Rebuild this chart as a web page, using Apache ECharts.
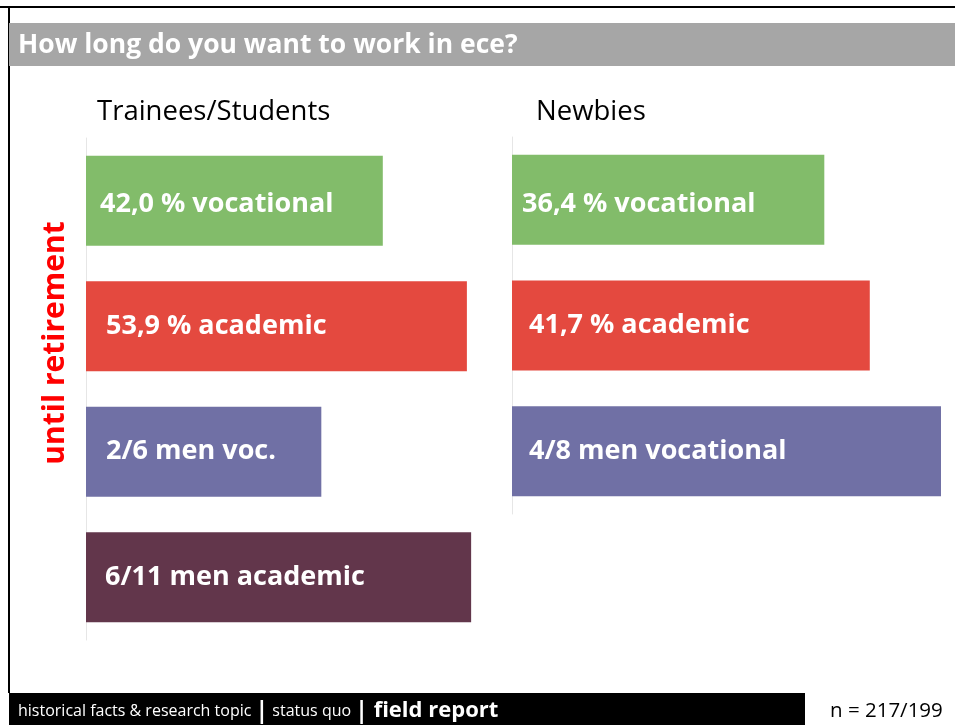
<!DOCTYPE html>
<html><head><meta charset="utf-8">
<script src="https://cdn.jsdelivr.net/npm/echarts@6/dist/echarts.min.js"></script>
<style>html,body{margin:0;padding:0;background:#fff}#c{width:955px;height:725px}</style>
</head><body><div id="c"></div>
<script>
const leftCategories = ['vocational', 'academic', 'men voc.', 'men academic'];
const leftValues = [42.0, 53.9, 33.3, 54.5];
const leftLabels = ['42,0 % vocational', '53,9 % academic', '2/6 men voc.', '6/11 men academic'];
const rightCategories = ['vocational', 'academic', 'men vocational'];
const rightValues = [36.4, 41.7, 50.0];
const rightLabels = ['36,4 % vocational', '41,7 % academic', '4/8 men vocational'];
const panelTitles = ['Trainees/Students', 'Newbies'];
const titleText = 'How long do you want to work in ece?';
const sideText = 'until retirement';
const nText = 'n = 217/199';

// styling (kept separate from data)
const leftColors = ['#82bc6a', '#e4493f', '#7070a5', '#62364b'];
const rightColors = ['#82bc6a', '#e4493f', '#7070a5'];
const leftLabelPad = [14, 20, 20, 19];
const rightLabelPad = [10, 17, 17];
const leftLabelDy = [4, 0, 0, 0];
const rightLabelDy = [4, 0, 0];

const FONT = '"Open Sans", sans-serif';
const chart = echarts.init(document.getElementById('c'), null, {renderer: 'canvas'});

function mkData(vals, cols, labels, pads, dys) {
  return vals.map((v, i) => ({
    value: v,
    itemStyle: {color: cols[i]},
    label: {
      show: true, position: 'insideLeft', distance: pads[i], offset: [0, dys[i]],
      formatter: labels[i],
      color: '#fff', fontWeight: 'bold', fontSize: 27, fontFamily: FONT
    }
  }));
}
const yAxisCommon = {
  type: 'category', inverse: true,
  axisLine: {show: true, lineStyle: {color: '#e6e6e6', width: 1}},
  axisTick: {show: false}, axisLabel: {show: false}, splitLine: {show: false}
};

chart.setOption({
  animation: false,
  backgroundColor: '#fff',
  grid: [
    {left: 86, top: 138, width: 424, height: 502},
    {left: 512, top: 137, width: 429, height: 377}
  ],
  xAxis: [
    {gridIndex: 0, type: 'value', min: 0, max: 60, show: false},
    {gridIndex: 1, type: 'value', min: 0, max: 50, show: false}
  ],
  yAxis: [
    Object.assign({gridIndex: 0, data: leftCategories}, yAxisCommon),
    Object.assign({gridIndex: 1, data: rightCategories}, yAxisCommon)
  ],
  series: [
    {type: 'bar', xAxisIndex: 0, yAxisIndex: 0, barWidth: 90,
     data: mkData(leftValues, leftColors, leftLabels, leftLabelPad, leftLabelDy)},
    {type: 'bar', xAxisIndex: 1, yAxisIndex: 1, barWidth: 90,
     data: mkData(rightValues, rightColors, rightLabels, rightLabelPad, rightLabelDy)}
  ],
  graphic: [
    {type: 'rect', shape: {x: 9, y: 23, width: 946, height: 43}, style: {fill: '#a6a6a6'}, z: 1},
    {type: 'text', x: 18, y: 45, style: {text: titleText, fill: '#fff', fontWeight: 'bold', fontSize: 26.5, fontFamily: FONT, verticalAlign: 'middle'}, z: 2},
    {type: 'line', shape: {x1: 0, y1: 7, x2: 955, y2: 7}, style: {stroke: '#000', lineWidth: 2}},
    {type: 'line', shape: {x1: 9, y1: 7, x2: 9, y2: 693}, style: {stroke: '#000', lineWidth: 2}},
    {type: 'text', x: 97, y: 112, style: {text: panelTitles[0], fill: '#000', fontSize: 27.5, fontFamily: FONT, verticalAlign: 'middle'}},
    {type: 'text', x: 536, y: 112, style: {text: panelTitles[1], fill: '#000', fontSize: 27.5, fontFamily: FONT, verticalAlign: 'middle'}},
    {type: 'text', x: 55, y: 343, rotation: Math.PI / 2,
     style: {text: sideText, fill: '#ff0000', fontWeight: 'bold', fontSize: 30, fontFamily: FONT, align: 'center', verticalAlign: 'middle'}},
    {type: 'rect', shape: {x: 9, y: 693, width: 796, height: 32}, style: {fill: '#000'}},
    {type: 'text', x: 18, y: 711,
     style: {
       text: '{a|historical facts & research topic }{b||}{a| status quo }{b||}{c| field report}',
       verticalAlign: 'middle', fontFamily: FONT,
       rich: {
         a: {fill: '#fff', fontSize: 16, fontFamily: FONT},
         b: {fill: '#fff', fontSize: 23, fontWeight: 'bold', fontFamily: FONT},
         c: {fill: '#fff', fontSize: 22, fontWeight: 'bold', fontFamily: FONT}
       }
     }},
    {type: 'text', x: 830, y: 711, style: {text: nText, fill: '#000', fontSize: 20.5, fontFamily: FONT, verticalAlign: 'middle'}}
  ]
});
</script></body></html>
